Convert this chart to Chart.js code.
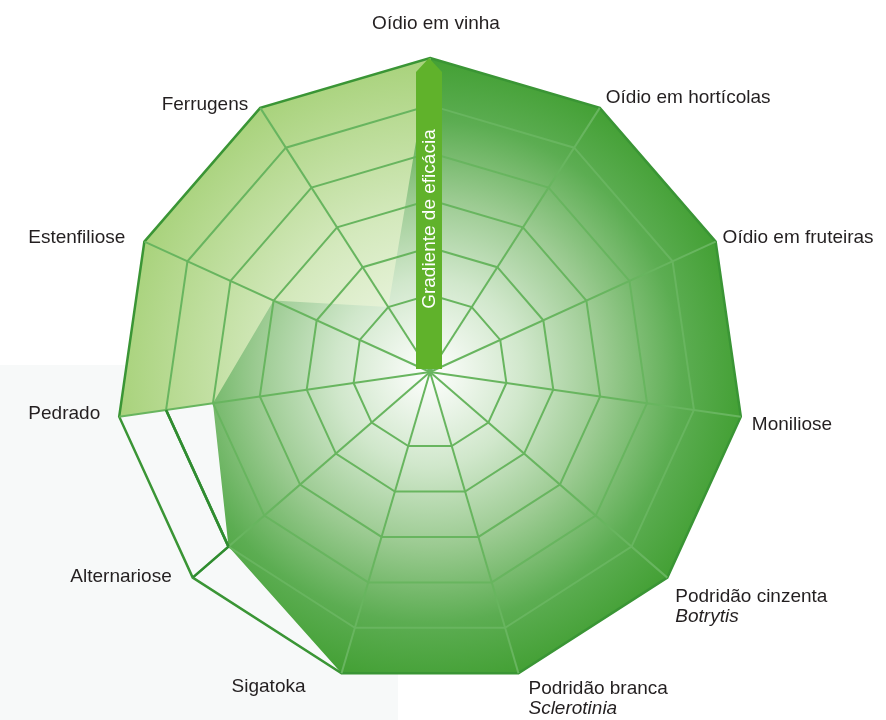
<!DOCTYPE html>
<html lang="pt">
<head>
<meta charset="utf-8">
<title>Gradiente de eficácia</title>
<script src="https://cdn.jsdelivr.net/npm/chart.js@4.4.1/dist/chart.umd.min.js"></script>
<style>
  html, body { margin: 0; padding: 0; background: #ffffff; }
  #wrap { width: 886px; height: 720px; }
</style>
</head>
<body>
<div id="wrap"><canvas id="radar" width="886" height="720"></canvas></div>
<script>
// eixos do radar, sentido horário a partir do topo
const doencas = [
    'Oídio em vinha', 'Oídio em hortícolas', 'Oídio em fruteiras', 'Moniliose',
    ['Podridão cinzenta', 'Botrytis'], ['Podridão branca', 'Sclerotinia'],
    'Sigatoka', 'Alternariose', 'Pedrado', 'Estenfiliose', 'Ferrugens'
];

// anéis da teia e valor que fica no centro
const niveis = [1, 2, 3, 4, 5, 6];
const nivelCentro = -0.63;

// polígono verde escuro (eficácia)
const eficacia = [6, 6, 6, 6, 6, 6, 6, 5, 4, 3, 1];
// área verde clara (0 = sem área)
const areaClara = [6, 0, 0, 0, 0, 0, 0, 0, 6, 6, 6];
// contorno escuro na zona branca
const contorno = [null, null, null, null, null, null, null, 5, 5, null, null];

const FONTE = '"Liberation Sans", Arial, Helvetica, sans-serif';

// posição de cada rótulo em relação ao vértice exterior
const rotuloPos = [
    {dx: 6, dy: -29, align: 'center'},
    {dx: 6, dy: -5, align: 'left'},
    {dx: 7, dy: 1, align: 'left'},
    {dx: 11, dy: 13, align: 'left'},
    {dx: 8, dy: 24, align: 'left'},
    {dx: 10, dy: 21, align: 'left'},
    {dx: -36, dy: 19, align: 'right'},
    {dx: -21, dy: 4, align: 'right'},
    {dx: -19, dy: 2, align: 'right'},
    {dx: -19, dy: 1, align: 'right'},
    {dx: -12, dy: 2, align: 'right'}
];

function gradiente(chart, stops) {
    const r = chart.scales.r;
    if (!r || !r.drawingArea) {
        return stops[stops.length - 1][1];
    }
    const g = chart.ctx.createRadialGradient(r.xCenter, r.yCenter, 0, r.xCenter, r.yCenter, r.drawingArea);
    stops.forEach(s => g.addColorStop(s[0], s[1]));
    return g;
}

const fundo = {
    id: 'fundo',
    beforeDraw(chart) {
        const ctx = chart.ctx;
        ctx.save();
        ctx.fillStyle = '#ffffff';
        ctx.fillRect(0, 0, chart.width, chart.height);
        ctx.fillStyle = '#f7f9f9';
        ctx.fillRect(0, 365, 398, chart.height - 365);
        ctx.restore();
    }
};

const extras = {
    id: 'extras',
    afterDraw(chart) {
        const r = chart.scales.r;
        const ctx = chart.ctx;

        // contorno por cima da teia
        chart.getDatasetMeta(0).dataset.draw(ctx, chart.chartArea);
        const iA = contorno.findIndex(v => v !== null);
        const a = r.getPointPositionForValue(iA, contorno[iA]);
        const b = r.getPointPositionForValue(iA, r.max);
        ctx.save();
        ctx.strokeStyle = '#2f8c30';
        ctx.lineWidth = 2.5;
        ctx.beginPath();
        ctx.moveTo(a.x, a.y);
        ctx.lineTo(b.x, b.y);
        ctx.stroke();
        ctx.restore();

        // seta "Gradiente de eficácia"
        const topo = r.getPointPositionForValue(0, r.max);
        const x = r.xCenter - 1, w = 26, yBase = r.yCenter - 3, yOmbro = topo.y + 14;
        ctx.save();
        ctx.fillStyle = '#60b22b';
        ctx.beginPath();
        ctx.moveTo(x - w / 2, yBase);
        ctx.lineTo(x - w / 2, yOmbro);
        ctx.lineTo(x, topo.y);
        ctx.lineTo(x + w / 2, yOmbro);
        ctx.lineTo(x + w / 2, yBase);
        ctx.closePath();
        ctx.fill();
        ctx.translate(x, r.yCenter - 0.487 * r.drawingArea);
        ctx.rotate(-Math.PI / 2);
        ctx.fillStyle = '#ffffff';
        ctx.font = '19px ' + FONTE;
        ctx.textAlign = 'center';
        ctx.textBaseline = 'middle';
        ctx.fillText('Gradiente de eficácia', 0, 1);
        ctx.restore();

        // rótulos dos eixos
        ctx.save();
        ctx.fillStyle = '#231f20';
        ctx.textBaseline = 'alphabetic';
        doencas.forEach((lab, i) => {
            const p = r.getPointPositionForValue(i, r.max);
            const pos = rotuloPos[i];
            const linhas = Array.isArray(lab) ? lab : [lab];
            ctx.textAlign = pos.align;
            linhas.forEach((t, k) => {
                ctx.font = (k > 0 ? 'italic ' : '') + '19px ' + FONTE;
                ctx.fillText(t, p.x + pos.dx, p.y + pos.dy + k * 20);
            });
        });
        ctx.restore();
    }
};

new Chart(document.getElementById('radar'), {
    type: 'radar',
    data: {
        labels: doencas,
        datasets: [{
            label: 'contorno',
            data: contorno,
            fill: false,
            spanGaps: false,
            borderColor: '#2f8c30',
            borderWidth: 2.5,
            pointRadius: 0
        }, {
            label: 'eficácia',
            data: eficacia,
            fill: 'start',
            borderWidth: 0,
            pointRadius: 0,
            backgroundColor: c => gradiente(c.chart, [
                [0, '#ffffff'], [0.3, '#d0e7cb'], [0.55, '#9ccb92'], [0.8, '#5cad52'], [1, '#43a034']
            ])
        }, {
            label: 'área clara',
            data: areaClara.map(v => v > 0 ? v : nivelCentro),
            fill: 'start',
            borderWidth: 0,
            pointRadius: 0,
            backgroundColor: c => gradiente(c.chart, [
                [0, '#f6faf0'], [0.5, '#d4e9bd'], [1, '#a8d27b']
            ])
        }]
    },
    options: {
        responsive: false,
        animation: false,
        layout: { padding: { top: 58, bottom: 34, left: 0, right: 26 } },
        plugins: {
            legend: { display: false },
            tooltip: { enabled: false }
        },
        elements: { line: { tension: 0 } },
        scales: {
            r: {
                min: nivelCentro,
                max: 6,
                afterBuildTicks: s => { s.ticks = niveis.map(v => ({ value: v })); },
                ticks: { display: false },
                pointLabels: { display: false },
                grid: {
                    z: 1,
                    color: c => c.tick && c.tick.value === 6 ? '#3a9535' : '#68b55f',
                    lineWidth: c => c.tick && c.tick.value === 6 ? 2.5 : 2
                },
                angleLines: { color: '#68b55f', lineWidth: 2 }
            }
        }
    },
    plugins: [fundo, extras]
});
</script>
</body>
</html>
